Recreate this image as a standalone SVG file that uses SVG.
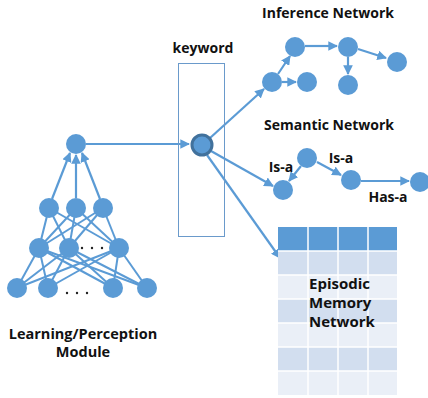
<svg xmlns="http://www.w3.org/2000/svg" width="428" height="398" viewBox="0 0 428 398">
<defs>
<style>
.n{fill:#5B9BD5;}
.e{stroke:#5B9BD5;stroke-width:2;fill:none;}
.a{stroke:#5B9BD5;stroke-width:2.2;fill:none;marker-end:url(#ah);}
.t{font-family:"Open Sans","Liberation Sans",sans-serif;font-weight:bold;fill:#111;}
.dot{fill:#222;}
.hd{fill:#5B9BD5;}
.r1{fill:#D2DEEF;}
.r2{fill:#EAEFF7;}
</style>
<marker id="ah" viewBox="0 0 10 10" refX="9" refY="5" markerWidth="4.4" markerHeight="4.4" orient="auto" markerUnits="strokeWidth">
<path d="M0,0 L10,5 L0,10 z" fill="#5B9BD5"/>
</marker>
</defs>
<rect width="428" height="398" fill="#fff"/>

<g id="connectors">
<line class="e" x1="49" y1="208" x2="39" y2="248"/>
<line class="e" x1="49" y1="208" x2="69" y2="248"/>
<line class="e" x1="49" y1="208" x2="119" y2="248"/>
<line class="e" x1="76" y1="208" x2="39" y2="248"/>
<line class="e" x1="76" y1="208" x2="69" y2="248"/>
<line class="e" x1="76" y1="208" x2="119" y2="248"/>
<line class="e" x1="103" y1="208" x2="39" y2="248"/>
<line class="e" x1="103" y1="208" x2="69" y2="248"/>
<line class="e" x1="103" y1="208" x2="119" y2="248"/>
<line class="e" x1="39" y1="248" x2="17" y2="288"/>
<line class="e" x1="39" y1="248" x2="48" y2="288"/>
<line class="e" x1="39" y1="248" x2="113" y2="288"/>
<line class="e" x1="39" y1="248" x2="147" y2="288"/>
<line class="e" x1="69" y1="248" x2="17" y2="288"/>
<line class="e" x1="69" y1="248" x2="48" y2="288"/>
<line class="e" x1="69" y1="248" x2="113" y2="288"/>
<line class="e" x1="69" y1="248" x2="147" y2="288"/>
<line class="e" x1="119" y1="248" x2="17" y2="288"/>
<line class="e" x1="119" y1="248" x2="48" y2="288"/>
<line class="e" x1="119" y1="248" x2="113" y2="288"/>
<line class="e" x1="119" y1="248" x2="147" y2="288"/>
<line class="a" x1="52" y1="199" x2="70" y2="153"/>
<line class="a" x1="76" y1="198" x2="76" y2="155"/>
<line class="a" x1="100" y1="199" x2="82" y2="153"/>
<line class="a" x1="86" y1="144" x2="189" y2="144"/>
<line class="a" x1="210" y1="138" x2="264" y2="89"/>
<line class="a" x1="211" y1="151" x2="273" y2="186"/>
<line class="a" x1="207" y1="155" x2="280" y2="258"/>
<line class="a" x1="278" y1="74" x2="290" y2="56"/>
<line class="a" x1="282" y1="82" x2="296" y2="82"/>
<line class="a" x1="305" y1="46" x2="337" y2="46"/>
<line class="a" x1="358" y1="49" x2="386" y2="58"/>
<line class="a" x1="348" y1="57" x2="348" y2="74"/>
<line class="a" x1="301" y1="166" x2="289" y2="181"/>
<line class="a" x1="317" y1="162" x2="341" y2="175"/>
<line class="a" x1="361" y1="181" x2="409" y2="181"/>
</g>

<g id="nn-top"><circle class="n" cx="76" cy="144" r="10"/></g>
<g id="nn-l2">
<circle class="n" cx="49" cy="208" r="10"/>
<circle class="n" cx="76" cy="208" r="10"/>
<circle class="n" cx="103" cy="208" r="10"/>
</g>
<g id="nn-l3">
<circle class="n" cx="39" cy="248" r="10"/>
<circle class="n" cx="69" cy="248" r="10"/>
<circle class="n" cx="119" cy="248" r="10"/>
<circle class="dot" cx="82" cy="248" r="1.2"/>
<circle class="dot" cx="92" cy="248" r="1.2"/>
<circle class="dot" cx="102" cy="248" r="1.2"/>
</g>
<g id="nn-l4">
<circle class="n" cx="17" cy="288" r="10"/>
<circle class="n" cx="48" cy="288" r="10"/>
<circle class="n" cx="113" cy="288" r="10"/>
<circle class="n" cx="147" cy="288" r="10"/>
<circle class="dot" cx="67" cy="293" r="1.2"/>
<circle class="dot" cx="77" cy="293" r="1.2"/>
<circle class="dot" cx="87" cy="293" r="1.2"/>
</g>
<g id="nn-label">
<text class="t" x="83" y="339" font-size="14.5" text-anchor="middle">Learning/Perception</text>
<text class="t" x="83" y="357" font-size="14.5" text-anchor="middle">Module</text>
</g>

<g id="keyword">
<rect x="178.5" y="63.5" width="46" height="173" fill="none" stroke="#6A9ACB" stroke-width="1"/>
<text class="t" x="203" y="53" font-size="14" text-anchor="middle">keyword</text>
<circle cx="202" cy="145" r="10" fill="#5B9BD5" stroke="#41719C" stroke-width="3"/>
</g>

<g id="inference">
<text class="t" x="328" y="18" font-size="14" text-anchor="middle">Inference Network</text>
<circle class="n" cx="295" cy="47" r="10"/>
<circle class="n" cx="348" cy="47" r="10"/>
<circle class="n" cx="397" cy="62" r="10"/>
<circle class="n" cx="272" cy="82" r="10"/>
<circle class="n" cx="307" cy="82" r="10"/>
<circle class="n" cx="348" cy="85" r="10"/>
</g>

<g id="semantic">
<text class="t" x="329" y="130" font-size="14" text-anchor="middle">Semantic Network</text>
<circle class="n" cx="307" cy="158" r="10"/>
<circle class="n" cx="283" cy="190" r="10"/>
<circle class="n" cx="351" cy="180" r="10"/>
<circle class="n" cx="420" cy="182" r="10"/>
<text class="t" x="281" y="172" font-size="14" text-anchor="middle">Is-a</text>
<text class="t" x="341" y="163" font-size="14" text-anchor="middle">Is-a</text>
<text class="t" x="388" y="202" font-size="14" text-anchor="middle">Has-a</text>
</g>

<g id="episodic">
<rect class="hd" x="278" y="227" width="119" height="24"/>
<rect class="r1" x="278" y="251" width="119" height="24"/>
<rect class="r2" x="278" y="275" width="119" height="24"/>
<rect class="r1" x="278" y="299" width="119" height="24"/>
<rect class="r2" x="278" y="323" width="119" height="24"/>
<rect class="r1" x="278" y="347" width="119" height="24"/>
<rect class="r2" x="278" y="371" width="119" height="24"/>
<g stroke="#fff" stroke-width="1.5">
<line x1="308" y1="227" x2="308" y2="395"/>
<line x1="338" y1="227" x2="338" y2="395"/>
<line x1="368" y1="227" x2="368" y2="395"/>
<line x1="278" y1="251" x2="397" y2="251"/>
<line x1="278" y1="275" x2="397" y2="275"/>
<line x1="278" y1="299" x2="397" y2="299"/>
<line x1="278" y1="323" x2="397" y2="323"/>
<line x1="278" y1="347" x2="397" y2="347"/>
<line x1="278" y1="371" x2="397" y2="371"/>
</g>
<text class="t" x="309" y="289" font-size="15">Episodic</text>
<text class="t" x="309" y="308" font-size="15">Memory</text>
<text class="t" x="309" y="327" font-size="15">Network</text>
</g>
</svg>
